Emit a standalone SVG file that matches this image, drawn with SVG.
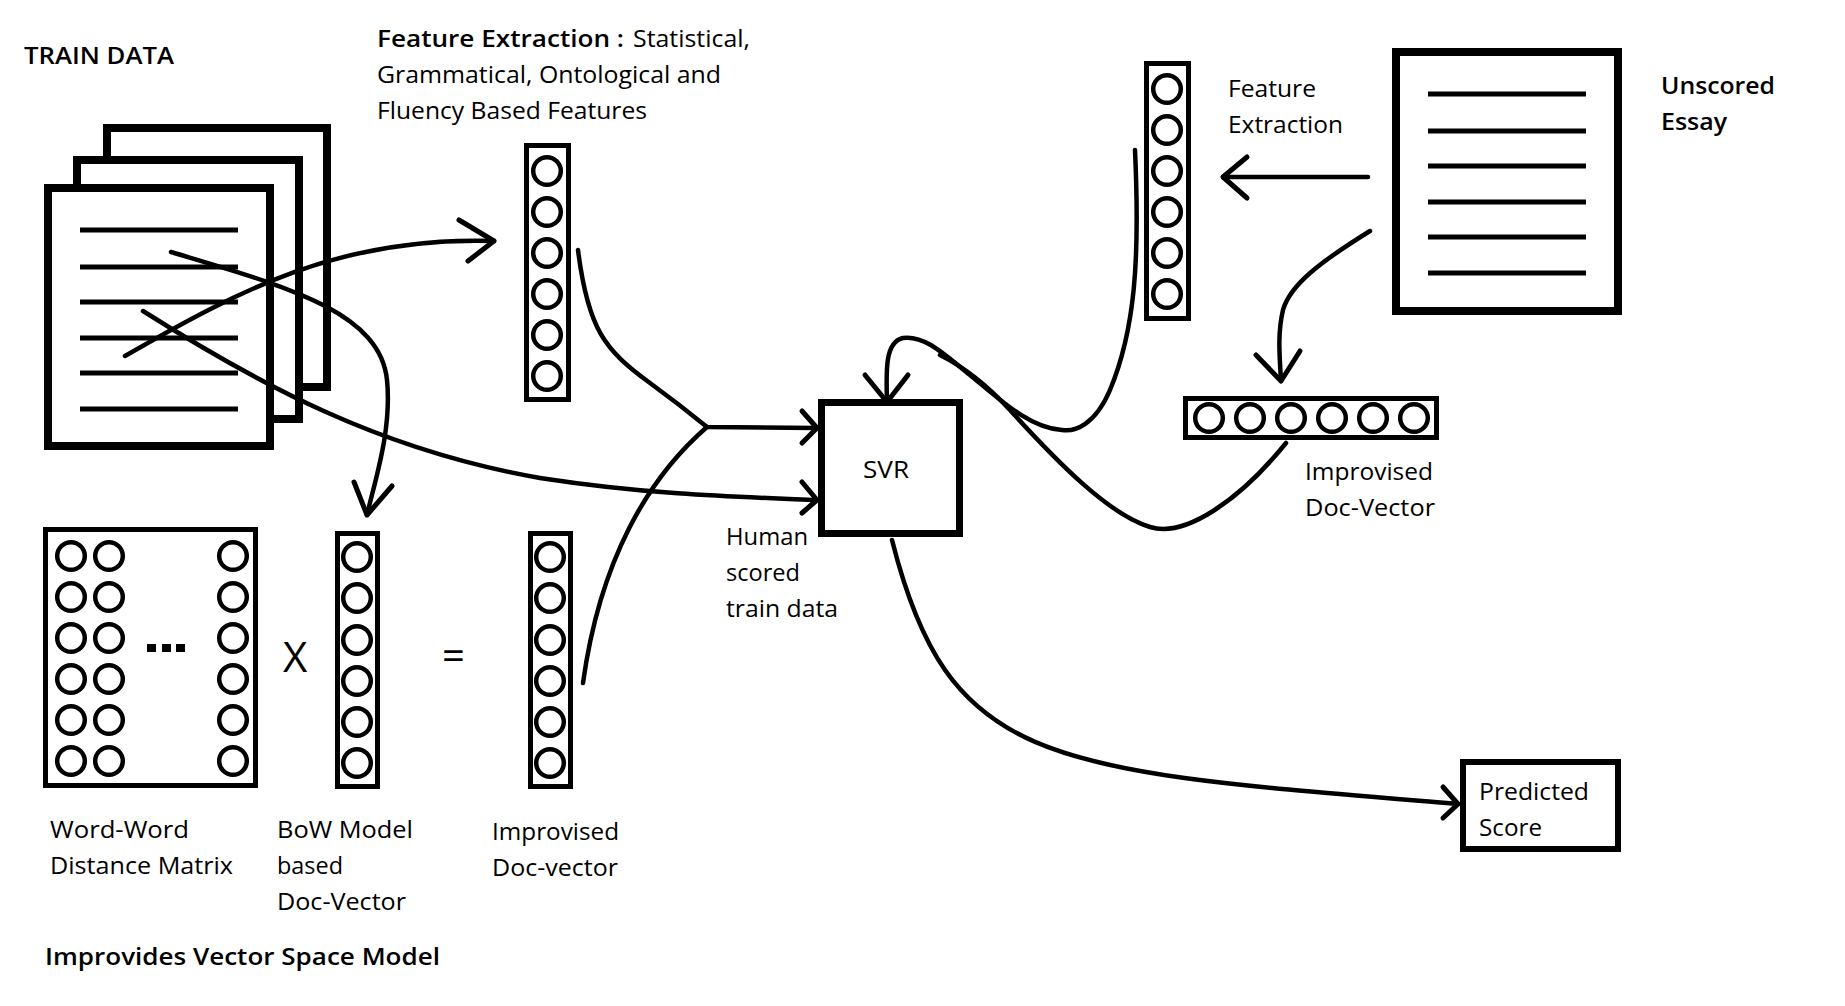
<svg xmlns="http://www.w3.org/2000/svg" width="1845" height="1006" viewBox="0 0 1845 1006">
<style>
.bg{fill:#fff}
.doc{fill:#fff;stroke:#000;stroke-width:8}
.dl{stroke:#000;stroke-width:5}
.box{fill:#fff;stroke:#000;stroke-width:6}
.vec{fill:#fff;stroke:#000;stroke-width:5}
.c{fill:none;stroke:#000;stroke-width:4.5}
.ln{fill:none;stroke:#000;stroke-width:4.5;stroke-linecap:round;stroke-linejoin:round}
.ah{fill:none;stroke:#000;stroke-width:5;stroke-linecap:round;stroke-linejoin:round}
text{font-family:"Open Sans","Noto Sans","DejaVu Sans",sans-serif;font-size:24px;fill:#000}
.sb{font-weight:600}
</style>
<rect class="bg" x="0" y="0" width="1845" height="1006"/>

<g id="train-data">
  <rect class="doc" x="107" y="128" width="220" height="259"/>
  <rect class="doc" x="77" y="160" width="222" height="259"/>
  <rect class="doc" x="48" y="188" width="222" height="258"/>
  <line class="dl" x1="80" y1="230" x2="238" y2="230"/>
  <line class="dl" x1="80" y1="267" x2="238" y2="267"/>
  <line class="dl" x1="80" y1="302" x2="238" y2="302"/>
  <line class="dl" x1="80" y1="338" x2="238" y2="338"/>
  <line class="dl" x1="80" y1="373" x2="238" y2="373"/>
  <line class="dl" x1="80" y1="409" x2="238" y2="409"/>
  <text class="sb" x="24" y="64" textLength="150" lengthAdjust="spacingAndGlyphs">TRAIN DATA</text>
</g>

<g id="feature-vector">
  <rect class="vec" x="526.5" y="145.5" width="42" height="254"/>
  <circle class="c" cx="547" cy="171" r="13.8"/>
  <circle class="c" cx="547" cy="212" r="13.8"/>
  <circle class="c" cx="547" cy="253" r="13.8"/>
  <circle class="c" cx="547" cy="294" r="13.8"/>
  <circle class="c" cx="547" cy="335" r="13.8"/>
  <circle class="c" cx="547" cy="376" r="13.8"/>
  <text class="sb" x="377" y="47" textLength="247" lengthAdjust="spacingAndGlyphs">Feature Extraction :</text>
  <text x="633" y="47" textLength="117" lengthAdjust="spacingAndGlyphs">Statistical,</text>
  <text x="377" y="83" textLength="344" lengthAdjust="spacingAndGlyphs">Grammatical, Ontological and</text>
  <text x="377" y="119" textLength="270" lengthAdjust="spacingAndGlyphs">Fluency Based Features</text>
</g>

<g id="distance-matrix">
  <rect class="vec" x="45.5" y="529.5" width="210" height="256"/>
  <g>
    <circle class="c" cx="71" cy="556" r="13.8"/><circle class="c" cx="109" cy="556" r="13.8"/><circle class="c" cx="233" cy="556" r="13.8"/>
    <circle class="c" cx="71" cy="597" r="13.8"/><circle class="c" cx="109" cy="597" r="13.8"/><circle class="c" cx="233" cy="597" r="13.8"/>
    <circle class="c" cx="71" cy="638" r="13.8"/><circle class="c" cx="109" cy="638" r="13.8"/><circle class="c" cx="233" cy="638" r="13.8"/>
    <circle class="c" cx="71" cy="679" r="13.8"/><circle class="c" cx="109" cy="679" r="13.8"/><circle class="c" cx="233" cy="679" r="13.8"/>
    <circle class="c" cx="71" cy="720" r="13.8"/><circle class="c" cx="109" cy="720" r="13.8"/><circle class="c" cx="233" cy="720" r="13.8"/>
    <circle class="c" cx="71" cy="761" r="13.8"/><circle class="c" cx="109" cy="761" r="13.8"/><circle class="c" cx="233" cy="761" r="13.8"/>
  </g>
  <rect x="147" y="644" width="9" height="8" fill="#000"/>
  <rect x="162" y="644" width="9" height="8" fill="#000"/>
  <rect x="176" y="644" width="9" height="8" fill="#000"/>
  <text x="50" y="838" textLength="139" lengthAdjust="spacingAndGlyphs">Word-Word</text>
  <text x="50" y="874" textLength="183" lengthAdjust="spacingAndGlyphs">Distance Matrix</text>
</g>

<g id="times-sign">
  <text x="283" y="672" style="font-size:42px">X</text>
</g>

<g id="bow-vector">
  <rect class="vec" x="337.5" y="533.5" width="40" height="253"/>
  <circle class="c" cx="357" cy="557" r="13.8"/>
  <circle class="c" cx="357" cy="598" r="13.8"/>
  <circle class="c" cx="357" cy="640" r="13.8"/>
  <circle class="c" cx="357" cy="681" r="13.8"/>
  <circle class="c" cx="357" cy="722" r="13.8"/>
  <circle class="c" cx="357" cy="763" r="13.8"/>
  <text x="277" y="838" textLength="136" lengthAdjust="spacingAndGlyphs">BoW Model</text>
  <text x="277" y="874" textLength="66" lengthAdjust="spacingAndGlyphs">based</text>
  <text x="277" y="910" textLength="129" lengthAdjust="spacingAndGlyphs">Doc-Vector</text>
</g>

<g id="equals-sign">
  <text x="442" y="670" style="font-size:40px">=</text>
</g>

<g id="improvised-vector-train">
  <rect class="vec" x="530.5" y="533.5" width="40" height="253"/>
  <circle class="c" cx="550" cy="557" r="13.8"/>
  <circle class="c" cx="550" cy="598" r="13.8"/>
  <circle class="c" cx="550" cy="640" r="13.8"/>
  <circle class="c" cx="550" cy="681" r="13.8"/>
  <circle class="c" cx="550" cy="722" r="13.8"/>
  <circle class="c" cx="550" cy="763" r="13.8"/>
  <text x="492" y="840" textLength="127" lengthAdjust="spacingAndGlyphs">Improvised</text>
  <text x="492" y="876" textLength="126" lengthAdjust="spacingAndGlyphs">Doc-vector</text>
</g>

<g id="vsm-title">
  <text class="sb" x="45" y="965" textLength="395" lengthAdjust="spacingAndGlyphs">Improvides Vector Space Model</text>
</g>

<g id="svr">
  <rect x="821.5" y="402.5" width="138" height="131" fill="#fff" stroke="#000" stroke-width="7"/>
  <text x="863" y="478" textLength="46" lengthAdjust="spacingAndGlyphs">SVR</text>
</g>

<g id="human-label">
  <text x="726" y="545" textLength="82" lengthAdjust="spacingAndGlyphs">Human</text>
  <text x="726" y="581" textLength="74" lengthAdjust="spacingAndGlyphs">scored</text>
  <text x="726" y="617" textLength="112" lengthAdjust="spacingAndGlyphs">train data</text>
</g>

<g id="test-feature-vector">
  <rect class="vec" x="1146.5" y="63.5" width="42" height="255"/>
  <circle class="c" cx="1167" cy="89" r="13.8"/>
  <circle class="c" cx="1167" cy="130" r="13.8"/>
  <circle class="c" cx="1167" cy="171" r="13.8"/>
  <circle class="c" cx="1167" cy="212" r="13.8"/>
  <circle class="c" cx="1167" cy="253" r="13.8"/>
  <circle class="c" cx="1167" cy="294" r="13.8"/>
  <text x="1228" y="97" textLength="88" lengthAdjust="spacingAndGlyphs">Feature</text>
  <text x="1228" y="133" textLength="115" lengthAdjust="spacingAndGlyphs">Extraction</text>
</g>

<g id="unscored-essay">
  <rect class="doc" x="1396" y="52" width="222" height="259"/>
  <line class="dl" x1="1428" y1="94" x2="1586" y2="94"/>
  <line class="dl" x1="1428" y1="131" x2="1586" y2="131"/>
  <line class="dl" x1="1428" y1="166" x2="1586" y2="166"/>
  <line class="dl" x1="1428" y1="202" x2="1586" y2="202"/>
  <line class="dl" x1="1428" y1="237" x2="1586" y2="237"/>
  <line class="dl" x1="1428" y1="273" x2="1586" y2="273"/>
  <text class="sb" x="1661" y="94" textLength="114" lengthAdjust="spacingAndGlyphs">Unscored</text>
  <text class="sb" x="1661" y="130" textLength="66" lengthAdjust="spacingAndGlyphs">Essay</text>
</g>

<g id="improvised-vector-test">
  <rect class="vec" x="1185.5" y="398.5" width="251" height="39"/>
  <circle class="c" cx="1209" cy="418" r="13.8"/>
  <circle class="c" cx="1250" cy="418" r="13.8"/>
  <circle class="c" cx="1291" cy="418" r="13.8"/>
  <circle class="c" cx="1332" cy="418" r="13.8"/>
  <circle class="c" cx="1373" cy="418" r="13.8"/>
  <circle class="c" cx="1414" cy="418" r="13.8"/>
  <text x="1305" y="480" textLength="128" lengthAdjust="spacingAndGlyphs">Improvised</text>
  <text x="1305" y="516" textLength="130" lengthAdjust="spacingAndGlyphs">Doc-Vector</text>
</g>

<g id="predicted-score">
  <rect class="box" x="1463" y="762" width="155" height="87"/>
  <text x="1479" y="800" textLength="110" lengthAdjust="spacingAndGlyphs">Predicted</text>
  <text x="1479" y="836" textLength="63" lengthAdjust="spacingAndGlyphs">Score</text>
</g>

<g id="connectors">
  <path class="ln" d="M125,356 C240,290 340,236 494,241"/>
  <polyline class="ah" points="459,220 494,241 468,261"/>
  <path class="ln" d="M171,252 C280,285 380,310 387,380 C392,430 375,480 367,515"/>
  <polyline class="ah" points="354,482 367,515 392,486"/>
  <path class="ln" d="M143,311 C260,385 380,450 540,478 C650,495 740,497 817,500"/>
  <polyline class="ah" points="802,482 817,500 802,513"/>
  <path class="ln" d="M578,250 C588,330 605,350 650,383 Q680,405 707,427 L817,428"/>
  <polyline class="ah" points="802,411 817,428 802,443"/>
  <path class="ln" d="M583,683 C600,560 648,478 707,427"/>
  <path class="ln" d="M1368,177 L1223,177"/>
  <polyline class="ah" points="1247,157 1223,177 1247,198"/>
  <path class="ln" d="M1370,231 C1320,262 1290,285 1283,310 C1277,335 1280,360 1281,381"/>
  <polyline class="ah" points="1256,355 1281,381 1300,351"/>
  <path class="ln" d="M1135,150 C1140,260 1135,330 1110,390 C1095,425 1075,432 1062,430 C1030,428 1000,400 970,375 C945,355 925,335 903,338 C885,342 886,370 887,402"/>
  <path class="ln" d="M1286,443 C1240,500 1185,538 1150,527 C1110,515 1060,465 1010,410 C985,383 960,365 940,355"/>
  <polyline class="ah" points="865,375 887,402 908,375"/>
  <path class="ln" d="M892,540 C950,770 1050,770 1458,804"/>
  <polyline class="ah" points="1443,787 1458,804 1443,818"/>
</g>
</svg>
